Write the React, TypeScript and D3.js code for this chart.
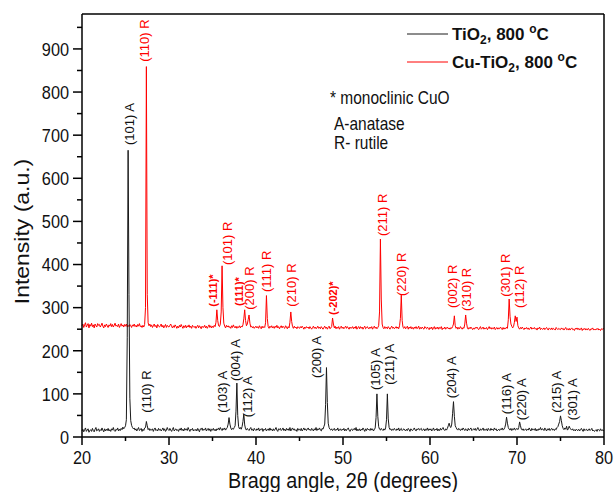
import React from "react";
import * as d3 from "d3";

// ---- data ----
const TWO_THETA_START = 20;
const TWO_THETA_STEP = 0.1;

const X_TICKS = [20, 30, 40, 50, 60, 70, 80];
const X_MINOR = [25, 35, 45, 55, 65, 75];
const Y_TICKS = [0, 100, 200, 300, 400, 500, 600, 700, 800, 900];
const Y_MINOR = [50, 150, 250, 350, 450, 550, 650, 750, 850, 950];

// TiO2, 800 °C intensities, 20.0 .. 80.0 step 0.1 (one row per degree)
const TIO2 = [
  14, 18, 12, 17, 21, 13, 16, 19, 11, 15,
  17, 13, 20, 15, 12, 18, 22, 14, 16, 19,
  13, 17, 15, 21, 16, 12, 19, 14, 18, 15,
  20, 14, 17, 13, 19, 16, 22, 15, 13, 18,
  16, 21, 14, 18, 15, 20, 17, 23, 19, 22,
  26, 40, 230, 665, 330, 90, 38, 27, 22, 19,
  21, 16, 19, 14, 18, 22, 15, 17, 20, 13,
  18, 15, 21, 22, 36, 26, 17, 20, 15, 18,
  16, 19, 13, 18, 21, 15, 17, 14, 20, 16,
  18, 14, 17, 21, 15, 19, 13, 16, 22, 17,
  15, 20, 16, 13, 18, 22, 14, 17, 19, 15,
  17, 13, 19, 16, 21, 15, 18, 14, 20, 16,
  19, 15, 22, 17, 13, 18, 16, 20, 14, 17,
  15, 18, 14, 20, 16, 12, 19, 17, 21, 15,
  18, 16, 21, 14, 17, 20, 15, 19, 13, 18,
  16, 20, 15, 18, 14, 19, 17, 21, 16, 22,
  18, 15, 20, 17, 21, 16, 19, 22, 30, 45,
  30, 21, 17, 20, 18, 22, 26, 60, 125, 50,
  24, 19, 22, 18, 24, 36, 53, 28, 19, 16,
  20, 17, 15, 19, 22, 16, 18, 14, 20, 17,
  15, 19, 16, 21, 14, 18, 17, 20, 13, 18,
  16, 20, 14, 17, 19, 15, 21, 16, 18, 14,
  19, 15, 18, 22, 16, 13, 19, 17, 20, 15,
  17, 21, 15, 18, 14, 20, 16, 19, 15, 22,
  14, 18, 21, 16, 19, 15, 17, 13, 20, 16,
  18, 15, 20, 14, 17, 21, 16, 19, 15, 18,
  21, 16, 18, 15, 20, 17, 14, 19, 16, 22,
  15, 19, 17, 21, 16, 14, 20, 18, 24, 30,
  75, 161, 80, 32, 22, 18, 16, 19, 15, 17,
  20, 15, 18, 16, 21, 14, 17, 19, 15, 18,
  16, 20, 14, 18, 15, 19, 21, 16, 13, 17,
  19, 15, 17, 20, 16, 22, 14, 18, 15, 19,
  14, 18, 16, 21, 17, 13, 19, 15, 20, 17,
  18, 15, 20, 16, 19, 14, 17, 21, 45, 100,
  48, 24, 18, 16, 20, 17, 15, 19, 16, 21,
  40, 100, 42, 22, 17, 19, 15, 18, 16, 20,
  17, 15, 19, 16, 21, 14, 18, 20, 15, 17,
  19, 16, 14, 18, 15, 20, 17, 13, 19, 16,
  15, 18, 21, 16, 14, 19, 17, 20, 16, 18,
  20, 15, 17, 19, 14, 18, 16, 21, 15, 19,
  16, 19, 14, 17, 21, 15, 18, 16, 20, 14,
  18, 15, 20, 16, 19, 22, 17, 15, 19, 16,
  20, 26, 32, 24, 22, 30, 55, 82, 48, 26,
  22, 18, 16, 20, 17, 15, 19, 16, 21, 18,
  15, 19, 17, 14, 20, 16, 18, 21, 15, 17,
  19, 16, 20, 15, 18, 22, 17, 14, 19, 16,
  17, 21, 15, 18, 16, 19, 14, 20, 17, 15,
  20, 16, 18, 15, 21, 17, 19, 14, 16, 18,
  15, 19, 17, 21, 16, 18, 22, 30, 46, 32,
  22, 18, 16, 20, 15, 19, 17, 21, 16, 18,
  20, 17, 22, 35, 26, 18, 16, 19, 15, 17,
  19, 15, 18, 16, 21, 17, 14, 20, 16, 18,
  16, 20, 14, 18, 15, 19, 17, 22, 16, 19,
  18, 15, 21, 17, 14, 19, 16, 20, 15, 18,
  20, 16, 18, 15, 19, 17, 22, 24, 30, 36,
  49, 38, 26, 20, 17, 21, 18, 25, 16, 19,
  25, 20, 18, 16, 19, 15, 17, 14, 18, 16,
  15, 18, 14, 17, 20, 16, 13, 19, 15, 17,
  18, 14, 16, 19, 15, 17, 20, 14, 16, 13,
  15, 17, 13, 18, 16, 14, 19, 15, 17, 14,
  16,
];

// Cu-TiO2, 800 °C intensities, 20.0 .. 80.0 step 0.1
const CU_TIO2 = [
  258, 262, 254, 260, 265, 255, 259, 263, 253, 261,
  257, 264, 256, 260, 253, 262, 258, 255, 263, 259,
  261, 255, 259, 264, 257, 253, 260, 256, 262, 258,
  254, 260, 257, 263, 256, 261, 255, 259, 264, 257,
  259, 256, 262, 254, 258, 263, 257, 260, 255, 261,
  257, 262, 255, 259, 256, 261, 258, 254, 260, 257,
  262, 256, 259, 255, 261, 257, 263, 256, 258, 254,
  259, 255, 261, 300, 859, 330, 265, 258, 262, 256,
  260, 254, 258, 262, 256, 259, 253, 261, 257, 255,
  258, 262, 255, 259, 253, 257, 261, 254, 259, 256,
  255, 259, 262, 256, 253, 258, 254, 260, 257, 252,
  257, 253, 259, 255, 261, 256, 252, 258, 254, 259,
  253, 258, 255, 260, 254, 257, 252, 259, 256, 254,
  257, 252, 256, 259, 253, 258, 255, 251, 257, 254,
  255, 259, 253, 257, 252, 256, 260, 254, 258, 253,
  257, 254, 259, 256, 266, 295, 270, 258, 256, 262,
  290, 397, 300, 264, 257, 253, 259, 255, 258, 254,
  256, 252, 258, 254, 260, 255, 253, 257, 252, 256,
  254, 258, 253, 257, 255, 260, 274, 295, 270, 258,
  262, 272, 283, 264, 255, 257, 253, 256, 252, 255,
  257, 253, 256, 252, 258, 254, 251, 257, 253, 256,
  254, 265, 328, 275, 256, 252, 257, 254, 258, 253,
  256, 252, 257, 254, 259, 253, 256, 251, 255, 258,
  253, 257, 254, 252, 258, 255, 251, 256, 253, 266,
  290, 268, 256, 252, 257, 253, 255, 251, 256, 254,
  252, 256, 253, 257, 254, 250, 255, 252, 256, 253,
  255, 251, 256, 253, 250, 254, 257, 252, 255, 251,
  253, 257, 252, 255, 251, 256, 253, 250, 254, 257,
  252, 255, 250, 254, 257, 251, 253, 256, 276, 262,
  253, 257, 251, 255, 252, 256, 250, 254, 257, 252,
  255, 251, 254, 257, 252, 256, 253, 250, 255, 252,
  253, 256, 251, 255, 252, 257, 250, 254, 256, 251,
  256, 252, 255, 250, 254, 257, 251, 253, 256, 252,
  251, 255, 252, 256, 250, 254, 257, 252, 255, 251,
  254, 258, 290, 459, 320, 262, 254, 251, 256, 252,
  255, 251, 256, 253, 250, 254, 257, 252, 255, 251,
  253, 256, 252, 255, 251, 258, 275, 329, 270, 254,
  252, 256, 251, 254, 257, 250, 255, 252, 256, 251,
  254, 250, 255, 252, 256, 251, 253, 257, 250, 254,
  251, 255, 252, 250, 256, 253, 251, 255, 252, 249,
  254, 251, 255, 249, 253, 256, 250, 254, 251, 255,
  250, 254, 252, 256, 249, 253, 251, 255, 250, 253,
  255, 251, 253, 250, 254, 252, 256, 262, 281, 258,
  252, 255, 250, 254, 251, 256, 253, 250, 254, 252,
  262, 283, 264, 253, 250, 254, 251, 255, 252, 249,
  253, 250, 254, 252, 255, 251, 249, 253, 256, 250,
  252, 255, 250, 253, 251, 254, 249, 252, 256, 251,
  254, 250, 253, 251, 255, 249, 252, 254, 250, 253,
  251, 255, 252, 249, 254, 250, 253, 251, 255, 252,
  272, 320, 280, 262, 257, 253, 256, 266, 281, 268,
  278, 258, 253, 250, 254, 251, 255, 252, 249, 253,
  251, 254, 250, 253, 249, 252, 255, 250, 253, 251,
  254, 250, 252, 248, 253, 251, 255, 249, 252, 250,
  250, 253, 249, 252, 254, 250, 248, 253, 251, 249,
  253, 249, 252, 250, 248, 254, 251, 249, 252, 250,
  249, 253, 250, 252, 248, 251, 254, 249, 251, 248,
  252, 248, 251, 253, 249, 250, 247, 252, 250, 253,
  249, 252, 248, 250, 253, 247, 251, 249, 252, 248,
  251, 248, 252, 249, 247, 251, 250, 253, 248, 250,
  248, 251, 249, 252, 248, 250, 247, 251, 249, 252,
  250,
];

// peak labels: [text, 2θ, intensity at label start]
const TIO2_LABELS: [string, number, number][] = [
  ["(101) A", 25.4, 677],
  ["(110) R", 27.36, 56],
  ["(103) A", 36.17, 56],
  ["(004) A", 37.67, 130],
  ["(112) A", 39.05, 46],
  ["(200) A", 46.9, 137],
  ["(105) A", 53.68, 109],
  ["(211) A", 55.29, 121],
  ["(204) A", 62.41, 90],
  ["(116) A", 68.74, 53],
  ["(220) A", 70.54, 39],
  ["(215) A", 74.56, 56],
  ["(301) A", 76.4, 39],
];

const CU_LABELS: [string, number, number][] = [
  ["(110) R", 27.13, 870],
  ["(-111)*", 35.02, 302],
  ["(101) R", 36.67, 399],
  ["(111)*", 38.08, 304],
  ["(200) R", 39.2, 295],
  ["(111) R", 41.23, 336],
  ["(210) R", 44.1, 302],
  ["(-202)*", 48.82, 283],
  ["(211) R", 54.55, 466],
  ["(220) R", 56.75, 327],
  ["(002) R", 62.61, 299],
  ["(310) R", 64.22, 292],
  ["(301) R", 68.62, 325],
  ["(112) R", 70.26, 299],
];

const NOTES = ["* monoclinic CuO", "A-anatase", "R- rutile"];

// ---- layout ----
const W = 616;
const H = 492;
const PL = 82;
const PR = 604;
const PT = 14;
const PB = 437;
const FONT = "Arial, 'Liberation Sans', Helvetica, sans-serif";
const STRETCH = 1.16; // the reference's lettering is slightly tall

export default function App() {
  const x = d3.scaleLinear().domain([20, 80]).range([PL, PR]);
  const y = d3.scaleLinear().domain([0, 981]).range([PB, PT]);

  const line = d3
    .line<number>()
    .x((_, i) => x(TWO_THETA_START + i * TWO_THETA_STEP))
    .y((d) => y(d));

  const blackColor = "#1a1a1a";
  const redColor = "#ff0000";

  return (
    <svg
      width={W}
      height={H}
      style={{ position: "absolute", left: 0, top: 0, background: "#fff" }}
      fontFamily={FONT}
    >
      <rect x={0} y={0} width={W} height={H} fill="#fff" />
      {/* series */}
      <path d={line(CU_TIO2) || ""} fill="none" stroke={redColor} strokeWidth={1} />
      <path d={line(TIO2) || ""} fill="none" stroke={blackColor} strokeWidth={1} />

      {/* frame */}
      <line x1={PL} x2={PR} y1={PT} y2={PT} stroke="#000" strokeWidth={1.5} />
      <line x1={PR} x2={PR} y1={PT} y2={PB} stroke="#000" strokeWidth={1.5} />
      <line x1={PL} x2={PR} y1={PB} y2={PB} stroke="#000" strokeWidth={1.5} />
      <line x1={PL} x2={PL} y1={PT} y2={PB} stroke="#000" strokeWidth={1.5} />

      {/* x ticks */}
      {X_TICKS.map((t) => (
        <g key={"xt" + t}>
          <line x1={x(t)} x2={x(t)} y1={PB} y2={PB + 8} stroke="#000" strokeWidth={1.5} />
          <text
            transform={`translate(${x(t)},${PB + 27}) scale(1,${STRETCH})`}
            textAnchor="middle"
            fontSize={16.3}
            fill="#111"
          >
            {t}
          </text>
        </g>
      ))}
      {X_MINOR.map((t) => (
        <line key={"xm" + t} x1={x(t)} x2={x(t)} y1={PB} y2={PB + 4} stroke="#000" strokeWidth={1.5} />
      ))}
      {/* y ticks */}
      {Y_TICKS.map((t) => (
        <g key={"yt" + t}>
          <line x1={PL - 9} x2={PL} y1={y(t)} y2={y(t)} stroke="#000" strokeWidth={1.5} />
          <text
            transform={`translate(${PL - 13},${y(t)}) scale(1,${STRETCH})`}
            dy="0.36em"
            textAnchor="end"
            fontSize={16.3}
            fill="#111"
          >
            {t}
          </text>
        </g>
      ))}
      {Y_MINOR.map((t) => (
        <line key={"ym" + t} x1={PL - 5} x2={PL} y1={y(t)} y2={y(t)} stroke="#000" strokeWidth={1.5} />
      ))}

      {/* axis titles */}
      <text
        transform={`translate(343,488) scale(1,${STRETCH})`}
        textAnchor="middle"
        fontSize={19.8}
        fill="#111"
      >
        Bragg angle, 2θ (degrees)
      </text>
      <text
        transform={`translate(22.5,231.5) rotate(-90) scale(${STRETCH},1)`}
        textAnchor="middle"
        dy="0.35em"
        fontSize={19.8}
        fill="#111"
      >
        Intensity (a.u.)
      </text>

      {/* peak labels */}
      {TIO2_LABELS.map(([t, a, v]) => (
        <text
          key={"bl" + t + a}
          transform={`translate(${x(a)},${y(v)}) rotate(-90)`}
          dy="0.35em"
          fontSize={13}
          fill="#111"
        >
          {t}
        </text>
      ))}
      {CU_LABELS.map(([t, a, v]) => {
        const star = t.endsWith("*");
        return (
          <text
            key={"rl" + t + a}
            transform={`translate(${x(a)},${y(v)}) rotate(-90)`}
            dy="0.35em"
            fontSize={star ? 11 : 13}
            fontWeight={star ? "bold" : "normal"}
            fill={redColor}
          >
            {t}
          </text>
        );
      })}

      {/* legend */}
      <line x1={407} x2={448} y1={34} y2={34} stroke={blackColor} strokeWidth={1} />
      <text x={452} y={40} fontSize={17} fontWeight="bold" fill="#111">
        TiO<tspan fontSize={12} dy={4}>2</tspan>
        <tspan dy={-4}>, 800 </tspan>
        <tspan fontSize={12} dy={-7}>o</tspan>
        <tspan dy={7}>C</tspan>
      </text>
      <line x1={407} x2={448} y1={62} y2={62} stroke={redColor} strokeWidth={1} />
      <text x={452} y={68} fontSize={17} fontWeight="bold" fill="#111">
        Cu-TiO<tspan fontSize={12} dy={4}>2</tspan>
        <tspan dy={-4}>, 800 </tspan>
        <tspan fontSize={12} dy={-7}>o</tspan>
        <tspan dy={7}>C</tspan>
      </text>

      {/* notes */}
      <text transform={`translate(330,104) scale(1,1.2)`} fontSize={15.5} fill="#111">{NOTES[0]}</text>
      <text transform={`translate(334,130) scale(1,1.2)`} fontSize={15.5} fill="#111">{NOTES[1]}</text>
      <text transform={`translate(334,149) scale(1,1.2)`} fontSize={15.5} fill="#111">{NOTES[2]}</text>
    </svg>
  );
}
